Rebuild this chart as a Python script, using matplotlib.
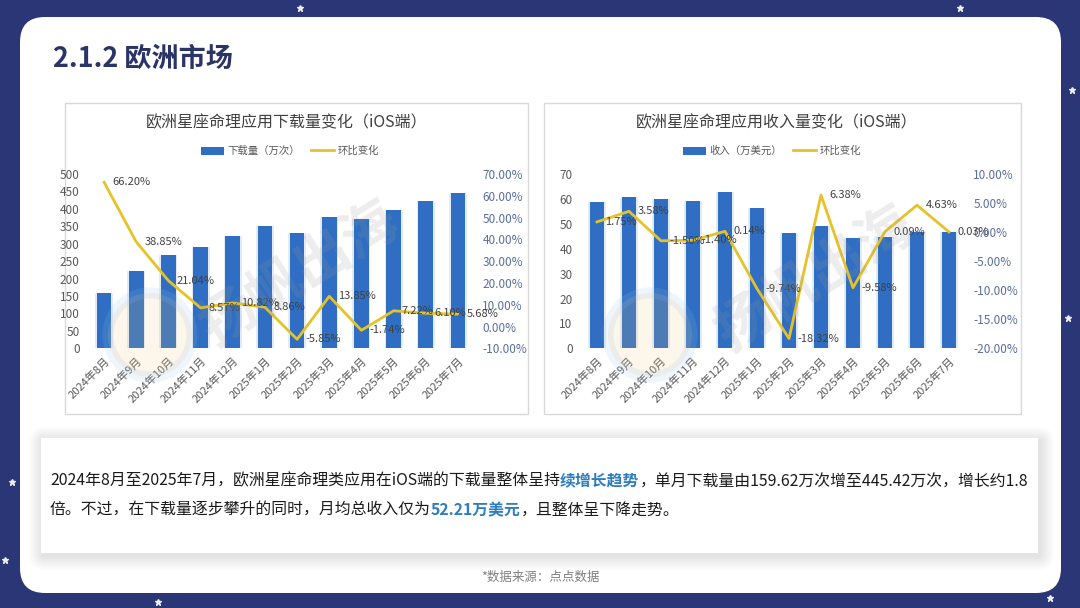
import numpy as np
import matplotlib
matplotlib.use("Agg")
import matplotlib.pyplot as plt
from matplotlib.patches import FancyBboxPatch, Rectangle, Patch, Circle
from matplotlib.lines import Line2D
from matplotlib.transforms import IdentityTransform
from matplotlib.ticker import FuncFormatter, MultipleLocator

plt.rcParams['font.family'] = ['Noto Sans CJK SC', 'DejaVu Sans']

# 数据
months = ['2024年8月', '2024年9月', '2024年10月', '2024年11月', '2024年12月', '2025年1月',
          '2025年2月', '2025年3月', '2025年4月', '2025年5月', '2025年6月', '2025年7月']
downloads = [159.62, 221.6, 268.4, 291.4, 323.0, 351.6, 331.0, 376.9, 370.3, 397.0, 421.2, 445.42]
dl_growth = [66.20, 38.85, 21.04, 8.57, 10.82, 8.86, -5.85, 13.85, -1.74, 7.22, 6.10, 5.68]
revenue = [58.9, 60.9, 60.0, 59.2, 62.6, 56.5, 46.2, 49.0, 44.4, 44.7, 46.6, 46.6]
rev_growth = [1.75, 3.58, -1.50, -1.40, 0.14, -9.74, -18.32, 6.38, -9.58, 0.09, 4.63, 0.03]

W, H = 1080, 608
NAVY = '#2a3675'
BAR = '#2f6ec2'
LINE = '#e6c229'
DARK = '#404040'
GRAY = '#595959'
RTICK = '#5a6e9c'

fig = plt.figure(figsize=(W / 100, H / 100), dpi=100)
fig.patch.set_facecolor(NAVY)
ID = IdentityTransform()


def box(x0, y0, x1, y1):
    # 像素坐标（左上为原点）-> 显示坐标
    return (x0, H - y1, x1 - x0, y1 - y0)


def fx(x):
    return x / W


def fy(y):
    return 1 - y / H


# 背景星星
stars = [(12, 482), (158, 602), (1068, 318), (1050, 598), (5, 560), (1072, 90), (300, 8), (960, 8)]
for sx, sy in stars:
    fig.add_artist(Line2D([sx], [H - sy], marker='*', color='white', markersize=5,
                          alpha=0.85, transform=ID, zorder=-9))

# 白色卡片
x0, y0, w0, h0 = box(20, 17, 1061, 593)
fig.add_artist(FancyBboxPatch((x0 + 25, y0 + 25), w0 - 50, h0 - 50,
                              boxstyle='round,pad=25', facecolor='white', edgecolor='none',
                              transform=ID, zorder=-8))

fig.text(fx(53), fy(59), '2.1.2 欧洲市场', fontsize=19.5, fontweight='bold',
         color='#2b3467', va='center', ha='left')

# 图表外框
for px0, px1 in [(65, 528), (544, 1021)]:
    bx = box(px0, 103, px1, 414)
    fig.add_artist(Rectangle((bx[0], bx[1]), bx[2], bx[3], facecolor='white',
                             edgecolor='#d9d9d9', lw=1, transform=ID, zorder=-7))

# 文本框阴影 + 框
bx = box(41, 438, 1038, 553)
for k in range(14, 0, -1):
    fig.add_artist(FancyBboxPatch((bx[0] - k + 2, bx[1] - k - 3), bx[2] + 2 * k, bx[3] + 2 * k,
                                  boxstyle='round,pad=0,rounding_size=%d' % (k + 2),
                                  facecolor='#000000', edgecolor='none', alpha=0.007,
                                  transform=ID, zorder=-6))
fig.add_artist(Rectangle((bx[0], bx[1]), bx[2], bx[3], facecolor='white', edgecolor='none',
                         transform=ID, zorder=-5))


def pct(v, pos):
    return '%.2f%%' % (v * 100)


def make_chart(rect, values, growth, ylim, ystep, rlim, rstep, title, tcx, bar_label, lcx):
    ax = fig.add_axes(rect)
    ax.set_facecolor('none')
    x = np.arange(len(values))
    # 柱子光晕
    ax.bar(x, values, width=0.56, color='#a9c8f0', alpha=0.35, zorder=1)
    ax.bar(x, values, width=0.46, color=BAR, zorder=2)
    ax.set_xlim(-0.5, len(values) - 0.5)
    ax.set_ylim(*ylim)
    ax.yaxis.set_major_locator(MultipleLocator(ystep))
    ax.set_xticks(x)
    ax.set_xticklabels(months, rotation=45, ha='right', rotation_mode='anchor',
                       fontsize=8, color=GRAY)
    ax.tick_params(axis='x', length=0, pad=5)
    ax.tick_params(axis='y', length=0, labelsize=8.5, labelcolor=GRAY, pad=6)
    for s in ax.spines.values():
        s.set_visible(False)

    ax2 = ax.twinx()
    g = np.array(growth) / 100
    ax2.plot(x, g, color=LINE, lw=2, zorder=3)
    ax2.set_ylim(*rlim)
    ax2.yaxis.set_major_locator(MultipleLocator(rstep))
    ax2.yaxis.set_major_formatter(FuncFormatter(pct))
    ax2.tick_params(axis='y', length=0, labelsize=8.5, labelcolor=RTICK, pad=6)
    for s in ax2.spines.values():
        s.set_visible(False)
    for i, v in enumerate(growth):
        ax2.annotate('%.2f%%' % v, (i, v / 100), xytext=(6, 0), textcoords='offset points',
                     va='center', ha='left', fontsize=8, color=DARK, zorder=4)

    fig.text(fx(tcx), fy(123), title, fontsize=11.5, color=DARK, ha='center', va='center')
    handles = [Patch(facecolor=BAR, edgecolor='none'), Line2D([], [], color=LINE, lw=2)]
    fig.legend(handles, [bar_label, '环比变化'], loc='center', ncol=2,
               bbox_to_anchor=(fx(lcx), fy(151)), frameon=False, fontsize=7.5,
               handlelength=2.2, handleheight=0.8, columnspacing=1.0, handletextpad=0.4,
               labelcolor=GRAY)
    return ax, ax2


make_chart([fx(88), fy(348.3), fx(474) - fx(88), fy(174) - fy(348.3)],
           downloads, dl_growth, (0, 500), 50, (-0.10, 0.70), 0.10,
           '欧洲星座命理应用下载量变化（iOS端）', 287, '下载量（万次）', 290)
make_chart([fx(581), fy(348.3), fx(965) - fx(581), fy(174) - fy(348.3)],
           revenue, rev_growth, (0, 70), 10, (-0.20, 0.10), 0.05,
           '欧洲星座命理应用收入量变化（iOS端）', 777, '收入（万美元）', 772)

# 水印
for wx, wy in [(300, 275), (815, 280)]:
    fig.text(fx(wx), fy(wy), '扬帆出海', fontsize=40, color='#9a9a9a', alpha=0.18,
             rotation=32, ha='center', va='center', fontweight='bold', zorder=5)
for cx, cy in [(150, 335), (650, 335)]:
    fig.add_artist(Circle((cx, H - cy), 42, facecolor='#f5c878', alpha=0.15,
                          edgecolor='#8fc0ec', lw=8, transform=ID, zorder=5))

# 说明文字（分段着色）
renderer = fig.canvas.get_renderer()


def draw_runs(x, y, runs, size=11.4):
    for s, color, weight in runs:
        t = fig.text(fx(x), fy(y), s, fontsize=size, color=color, fontweight=weight,
                     ha='left', va='center')
        x += t.get_window_extent(renderer).width


BLUE = '#2f7dbf'
draw_runs(50, 481, [
    ('2024年8月至2025年7月，欧洲星座命理类应用在iOS端的下载量整体呈持', '#1a1a1a', 'normal'),
    ('续增长趋势', BLUE, 'bold'),
    ('，单月下载量由159.62万次增至445.42万次，增长约1.8', '#1a1a1a', 'normal'),
])
draw_runs(50, 510, [
    ('倍。不过，在下载量逐步攀升的同时，月均总收入仅为', '#1a1a1a', 'normal'),
    ('52.21万美元', BLUE, 'bold'),
    ('，且整体呈下降走势。', '#1a1a1a', 'normal'),
])

fig.text(fx(540), fy(577), '*数据来源：点点数据', fontsize=9, color='#7f7f7f',
         ha='center', va='center')

fig.savefig('out.png', dpi=100, facecolor=NAVY)
